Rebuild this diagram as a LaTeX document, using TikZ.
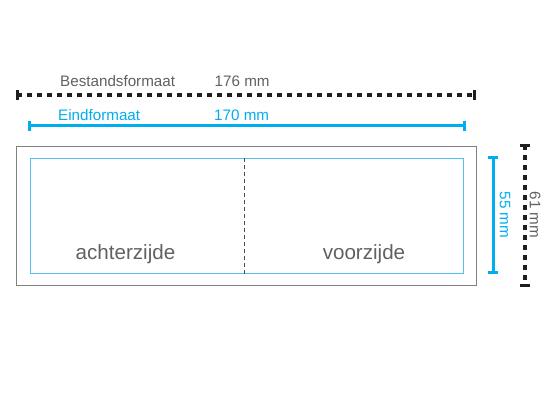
\documentclass[tikz,border=0pt]{standalone}
\usepackage{fontspec}
\setmainfont{Liberation Sans}
\begin{document}
\begin{tikzpicture}[x=1pt,y=-1pt,
  grayline/.style={draw=black!50,line width=1pt},
  cyandim/.style={draw={rgb,255:red,0;green,174;blue,239},line width=3.2pt},
  blackdim/.style={draw=black!88,line width=3.2pt,dash pattern=on 5pt off 5pt},
  tick/.style={draw=black!88,line width=3pt},
  ctick/.style={draw={rgb,255:red,0;green,174;blue,239},line width=3pt},
  lbl/.style={font=\fontsize{15.2}{17}\selectfont,text=black!62,inner sep=0pt},
  clbl/.style={font=\fontsize{15.2}{17}\selectfont,text={rgb,255:red,0;green,174;blue,239},inner sep=0pt},
  side/.style={font=\fontsize{20.6}{23}\selectfont,text=black!62,inner sep=0pt}]
\useasboundingbox (0,0) rectangle (550,400);
% outer and inner rectangles
\node[grayline,minimum width=460pt,minimum height=139pt,inner sep=0pt] (outer) at (246,215.5) {};
\node[draw={rgb,255:red,79;green,195;blue,247},line width=0.9pt,minimum width=433pt,minimum height=115.5pt,inner sep=0pt] (inner) at (246.7,216) {};
\coordinate (divt) at (244.3,158.3);
\coordinate (divb) at (244.3,273.7);
\draw[black!70,line width=0.7pt,dash pattern=on 4pt off 3pt] (divt) -- (divb);
\node[side,anchor=base] (achter) at (125.5,259) {achterzijde};
\node[side,anchor=base] (voor) at (364,259) {voorzijde};
% top dimension
\coordinate (bl) at (17,95);
\coordinate (br) at (474,95);
\draw[blackdim] (bl) -- (br);
\draw[tick] (17,90) -- (17,100);
\draw[tick] (474,90) -- (474,100);
\node[lbl,anchor=base west] (best) at (60,86.7) {Bestandsformaat};
\node[lbl,anchor=base west] (b176) at (214.5,86.7) {176 mm};
% eindformaat
\coordinate (cl) at (29.5,125.5);
\coordinate (cr) at (464,125.5);
\draw[cyandim] (cl) -- (cr);
\draw[ctick] (29.5,120.5) -- (29.5,130.5);
\draw[ctick] (464,120.5) -- (464,130.5);
\node[clbl,anchor=base west] (eind) at (58,120.7) {Eindformaat};
\node[clbl,anchor=base west] (e170) at (214,120.7) {170 mm};
% right: 55 mm
\coordinate (vt) at (493.3,157.5);
\coordinate (vb) at (493.3,272.3);
\draw[cyandim] (vt) -- (vb);
\draw[ctick] (488.3,157.5) -- (498.3,157.5);
\draw[ctick] (488.3,272.3) -- (498.3,272.3);
\node[clbl,rotate=-90] (l55) at (505,215) {55 mm};
% right: 61 mm
\coordinate (wt) at (525,145);
\coordinate (wb) at (525,285);
\draw[blackdim] (wt) -- (wb);
\draw[tick] (520,145) -- (530,145);
\draw[tick] (520,285) -- (530,285);
\node[lbl,rotate=-90] (l61) at (535,215) {61 mm};
\end{tikzpicture}
\end{document}
